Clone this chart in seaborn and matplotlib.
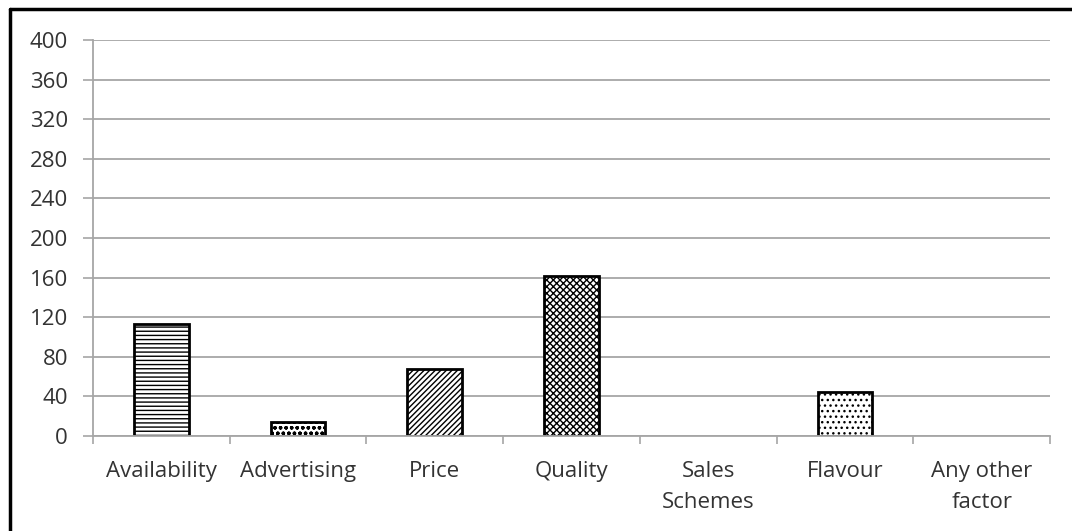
#!/usr/bin/env python3
import matplotlib
matplotlib.use("Agg")
import matplotlib.pyplot as plt
from matplotlib.lines import Line2D
from matplotlib.ticker import FixedLocator
import seaborn as sns
import pandas as pd

# factors influencing purchase, count of respondents
FACTORS = ["Availability", "Advertising", "Price", "Quality",
           "Sales\nSchemes", "Flavour", "Any other\nfactor"]
COUNTS = [113, 14, 68, 162, 0, 44, 0]
HATCHES = ["----", "ooo", "//////", "xxxxx", "", "...", ""]
YTICKS = list(range(0, 401, 40))

GRID_GRAY = "#a6a6a6"
TEXT_GRAY = "#333333"


def main():
    sns.set_style("white")
    plt.rcParams['font.family'] = ['Open Sans', 'DejaVu Sans']
    plt.rcParams['hatch.linewidth'] = 1.0

    df = pd.DataFrame({'factor': FACTORS, 'count': COUNTS})
    df['factor'] = pd.Categorical(df['factor'], FACTORS)

    fig = plt.figure(figsize=(10.72, 5.31), dpi=100)
    ax = fig.add_axes([93 / 1072, 95 / 531, (1050 - 93) / 1072, 396 / 531])

    ax.set_axisbelow(True)
    ax.grid(axis='y', color=GRID_GRAY, linewidth=1.3)

    sns.barplot(data=df, x='factor', y='count', order=FACTORS,
                color='white', edgecolor='black', linewidth=2.0,
                width=0.4, saturation=1, ax=ax)
    for bar, hatch in zip(ax.patches, HATCHES):
        bar.set_hatch(hatch)
        bar.set_facecolor('white')
        if bar.get_height() == 0:
            bar.set_visible(False)

    ax.set_ylim(0, 400)
    ax.set_xlim(-0.5, len(FACTORS) - 0.5)
    ax.set_yticks(YTICKS)
    ax.set_xlabel("")
    ax.set_ylabel("")

    for side in ('top', 'right'):
        ax.spines[side].set_visible(False)
    for side in ('left', 'bottom'):
        ax.spines[side].set_color(GRID_GRAY)
        ax.spines[side].set_linewidth(1.3)

    ax.tick_params(axis='y', length=7, width=1.2, color=GRID_GRAY,
                   labelsize=16, labelcolor=TEXT_GRAY, pad=11, left=True)
    ax.tick_params(axis='x', which='major', length=0, labelsize=16,
                   labelcolor=TEXT_GRAY, pad=18)
    for lbl in ax.get_xticklabels():
        lbl.set_linespacing(1.6)
    ax.xaxis.set_minor_locator(
        FixedLocator([i - 0.5 for i in range(len(FACTORS) + 1)]))
    ax.tick_params(axis='x', which='minor', length=6, width=1.2,
                   color=GRID_GRAY, bottom=True)

    # outer frame of the chart area (top and left edges visible)
    fig.add_artist(Line2D([10 / 1072, 1.0], [1 - 9 / 531, 1 - 9 / 531],
                          transform=fig.transFigure, color='black',
                          linewidth=2.5))
    fig.add_artist(Line2D([10 / 1072, 10 / 1072], [0.0, 1 - 9 / 531],
                          transform=fig.transFigure, color='black',
                          linewidth=2.5))

    fig.savefig("out.png", dpi=100)
    plt.close()


if __name__ == '__main__':
    main()
